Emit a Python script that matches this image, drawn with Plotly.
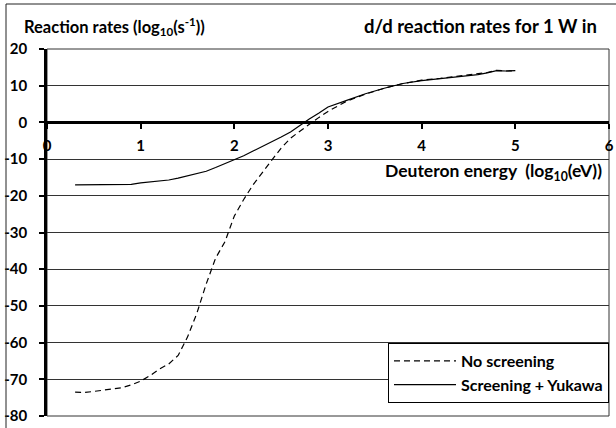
import plotly.graph_objects as go

# ---- data ----
x_noscreen = [0.3, 0.4, 0.5, 0.6, 0.7, 0.8, 0.9, 1.0, 1.1, 1.2, 1.3, 1.4, 1.45, 1.5, 1.6, 1.7, 1.8, 1.9,
              2.0, 2.1, 2.2, 2.3, 2.4, 2.5, 2.6, 2.7, 2.8, 2.9, 3.0, 3.2, 3.4, 3.6, 3.8, 4.0, 4.2,
              4.4, 4.6, 4.7, 4.8, 4.9, 5.0]
y_noscreen = [-73.5, -73.6, -73.3, -73.0, -72.8, -72.3, -71.5, -70.5, -69.0, -67.2, -65.8, -63.5, -61.0,
              -58.5, -52.0, -44.0, -37.0, -32.5, -25.5, -21.0, -17.0, -13.5, -10.3, -7.0, -4.3, -2.4,
              -0.5, 1.3, 3.0, 5.8, 7.7, 9.3, 10.6, 11.5, 12.0, 12.6, 13.2, 13.6, 14.2, 14.0, 14.1]

x_screen = [0.3, 0.5, 0.7, 0.9, 1.0, 1.1, 1.2, 1.3, 1.4, 1.5, 1.6, 1.7, 1.8, 1.9, 2.0, 2.1, 2.2, 2.3,
            2.4, 2.5, 2.6, 2.7, 2.8, 2.9, 3.0, 3.2, 3.4, 3.6, 3.8, 4.0, 4.2, 4.4, 4.6, 4.7, 4.8, 4.9, 5.0]
y_screen = [-17.0, -17.0, -17.0, -16.9, -16.5, -16.3, -16.1, -15.7, -15.2, -14.6, -14.1, -13.3, -12.3,
            -11.3, -10.2, -9.1, -7.8, -6.6, -5.4, -4.0, -2.6, -0.8, 0.9, 2.5, 4.2, 6.0, 7.8, 9.3, 10.6,
            11.4, 11.9, 12.4, 13.0, 13.5, 14.1, 14.0, 14.1]

x_ticks = [0, 1, 2, 3, 4, 5, 6]
y_ticks = [-80, -70, -60, -50, -40, -30, -20, -10, 0, 10, 20]
y_ticktext = [str(v) for v in y_ticks]   # plain hyphen minus, as in the reference

FONT = "Lato"
W, H = 616, 428
ML, MR, MT, MB = 47, 7, 49, 12

fig = go.Figure()
fig.add_trace(go.Scatter(x=x_noscreen, y=y_noscreen, mode="lines", name="No screening",
                         line=dict(color="black", width=1.2, dash="6px,4px")))
fig.add_trace(go.Scatter(x=x_screen, y=y_screen, mode="lines", name="Screening + Yukawa",
                         line=dict(color="black", width=1.2)))

pw = W - ML - MR
ph = H - MT - MB

bold = lambda s: dict(family=FONT, size=s, color="black", weight="bold")

fig.update_layout(
    width=W, height=H,
    margin=dict(l=ML, r=MR, t=MT, b=MB, autoexpand=False),
    paper_bgcolor="white", plot_bgcolor="white",
    font=dict(family=FONT, size=15, color="black"),
    showlegend=True,
    legend=dict(x=1, xanchor="right", y=1 - (343 - MT) / ph, yanchor="top",
                bgcolor="white", bordercolor="black", borderwidth=1,
                font=bold(16), itemwidth=62, tracegroupgap=0),
    xaxis=dict(range=[0, 6], tickvals=x_ticks, ticktext=[str(v) for v in x_ticks],
               anchor="free", position=80 / 100, showgrid=False, zeroline=False,
               showline=True, linecolor="black", linewidth=2.5, automargin=False,
               ticks="outside", ticklen=5, tickwidth=1.5, tickcolor="black",
               ticklabelstandoff=4, tickfont=bold(15)),
    yaxis=dict(range=[-80, 20], tickvals=y_ticks, ticktext=y_ticktext,
               showgrid=True, gridcolor="#333333", gridwidth=1,
               zeroline=False, showline=True, linecolor="black", linewidth=2.5, automargin=False,
               ticks="outside", ticklen=5, tickwidth=1.5, tickcolor="black",
               ticklabelstandoff=9, tickfont=bold(15)),
)

# plot area border
fig.add_shape(type="rect", xref="paper", yref="paper", x0=0, x1=1, y0=0, y1=1,
              line=dict(color="#333333", width=1), layer="below")
# outer chart frame: only its top and left edges fall inside the picture
fx0 = (6 - ML) / pw
fy_top = 1 + (MT - 4) / ph
fig.add_shape(type="line", xref="paper", yref="paper", x0=fx0, x1=(W + 2 - ML) / pw,
              y0=fy_top, y1=fy_top, line=dict(color="#222222", width=1))
fig.add_shape(type="line", xref="paper", yref="paper", x0=fx0, x1=fx0,
              y0=fy_top, y1=-(MB + 2) / ph, line=dict(color="#222222", width=1))

fig.add_annotation(text="Reaction rates (log<sub>10</sub>(s<sup>-1</sup>))", xref="paper", yref="paper",
                   x=(22 - ML) / pw, xanchor="left", y=1 + (MT - 26) / ph, yanchor="middle",
                   showarrow=False, font=bold(16.5))
fig.add_annotation(text="d/d reaction rates for 1 W in", xref="paper", yref="paper",
                   x=(599 - ML) / pw, xanchor="right", y=1 + (MT - 26) / ph, yanchor="middle",
                   showarrow=False, font=bold(18.5))
fig.add_annotation(text="Deuteron energy  (log<sub>10</sub>(eV))", xref="paper", yref="paper",
                   x=(604 - ML) / pw, xanchor="right", y=1 - (172 - MT) / ph, yanchor="middle",
                   showarrow=False, font=bold(17.5))

fig.write_html("out.html", config={"displayModeBar": False},
               post_script="document.body.style.margin='0';document.body.style.padding='0';")
